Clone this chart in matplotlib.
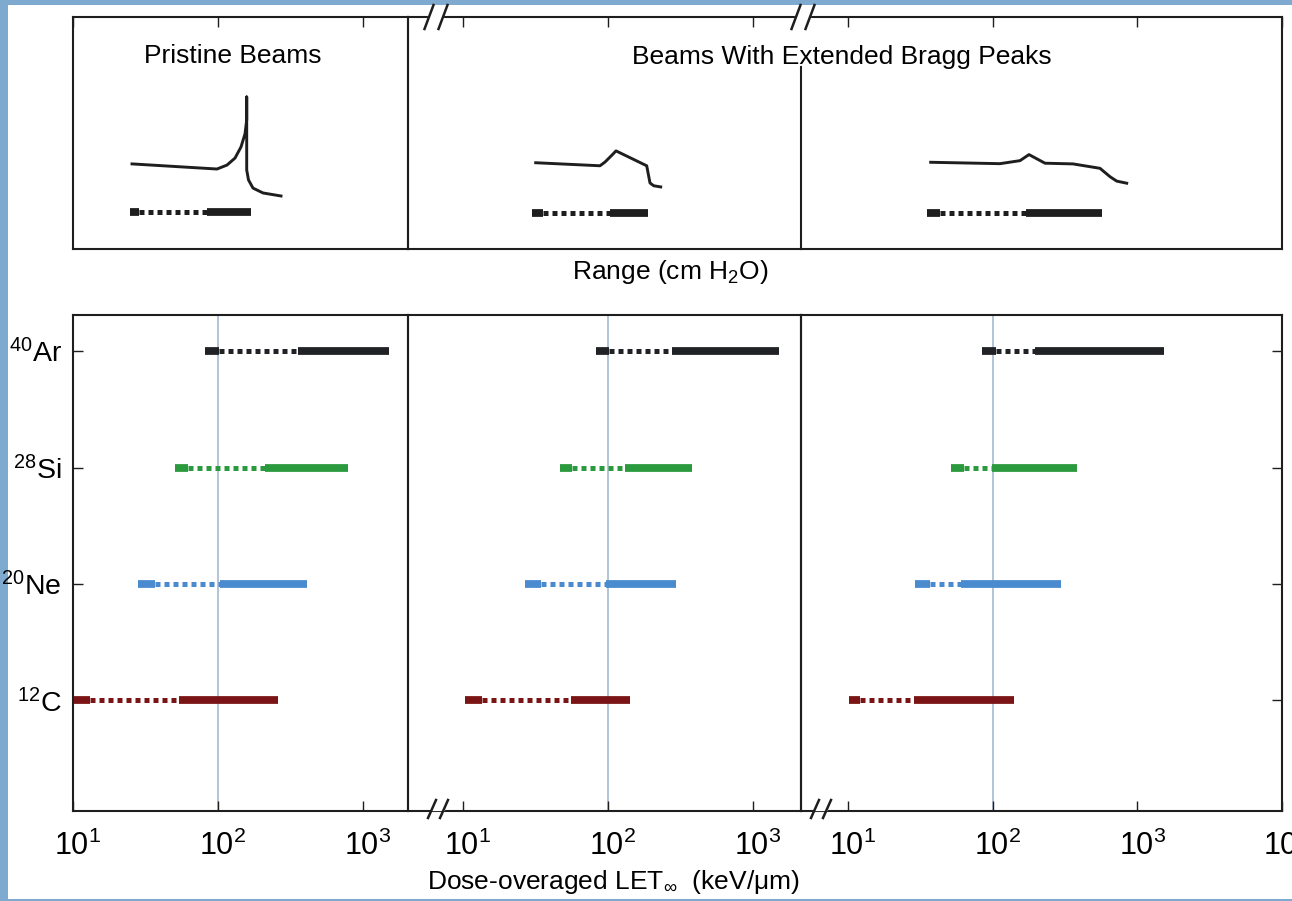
import matplotlib
matplotlib.use('Agg')
import matplotlib.pyplot as plt
from matplotlib.lines import Line2D
from matplotlib.patches import Rectangle
from matplotlib.ticker import NullLocator, FixedLocator
from matplotlib.transforms import ScaledTranslation

plt.rcParams['font.family'] = ['Liberation Sans', 'DejaVu Sans']
plt.rcParams['mathtext.fontset'] = 'custom'
plt.rcParams['mathtext.rm'] = 'Liberation Sans'
plt.rcParams['mathtext.it'] = 'Liberation Sans:italic'
plt.rcParams['mathtext.bf'] = 'Liberation Sans:bold'

W, H = 1292, 901

# ---------------- data ----------------
ion_labels = [r'$^{12}$C', r'$^{20}$Ne', r'$^{28}$Si', r'$^{40}$Ar']
ion_colors = ['#7b1414', '#4a8bd0', '#2b9a3f', '#202226']
ion_rows = [1, 2, 3, 4]

# LET (keV/um): entrance start, entrance end, peak start, peak end  (rows: C, Ne, Si, Ar)
let_pristine = [[10.2, 13.2, 53.5, 262], [27.9, 36.9, 103.8, 415],
                [50.2, 62.6, 212, 795], [81.6, 101, 358, 1517]]
let_sobp_narrow = [[10.4, 13.5, 55.4, 143.6], [26.9, 34.4, 96.6, 297],
                   [46.6, 56.9, 130.6, 383], [82.4, 102, 278, 1517]]
let_sobp_wide = [[10.1, 12.2, 28.7, 141], [29.0, 36.8, 60.4, 296],
                 [51.2, 63.7, 99.5, 385], [84.9, 105, 196, 1531]]
let_panels = [let_pristine, let_sobp_narrow, let_sobp_wide]

# schematic depth-dose curves (depth in cm H2O, relative dose)
depth_pristine = [5.9, 14.4, 15.4, 16.2, 16.8, 17.2, 17.37, 17.37, 17.37, 17.55, 18.0, 19.0, 20.8]
dose_pristine = [3.66, 3.44, 3.61, 3.91, 4.39, 4.95, 5.55, 6.54, 3.40, 2.97, 2.62, 2.41, 2.28]
depth_sobp_narrow = [12.8, 19.23, 19.73, 20.43, 20.83, 23.9, 24.23, 24.6, 25.3]
dose_sobp_narrow = [3.71, 3.58, 3.74, 4.04, 4.22, 3.58, 2.84, 2.72, 2.67]
depth_sobp_wide = [13.0, 19.93, 21.93, 22.83, 24.43, 27.23, 29.93, 30.93, 31.6, 32.6]
dose_sobp_wide = [3.73, 3.67, 3.80, 4.06, 3.69, 3.66, 3.47, 3.11, 2.92, 2.83]
depth_curves = [depth_pristine, depth_sobp_narrow, depth_sobp_wide]
dose_curves = [dose_pristine, dose_sobp_narrow, dose_sobp_wide]

# range bars (cm): entrance start, entrance end, peak start, peak end
range_bars = [[5.7, 6.6, 13.4, 17.8], [12.4, 13.53, 20.23, 24.03], [12.63, 13.93, 22.53, 30.13]]
range_bar_level = [1.59, 1.55, 1.55]

x_ticks = [10, 100, 1000, 10000]

# ---------------- layout ----------------
def fx(x):
    return x / W

def fy(y):
    return 1 - y / H

col_edges = [73, 407.7, 800.7, 1282]
let_limits = [(10, 2043), (4.175, 2143), (4.707, 10046)]
depth_limits = [33.47, 39.3, 48.13]

fig = plt.figure(figsize=(W / 100, H / 100), dpi=100, facecolor='#7eaacf')
fig.patches.append(Rectangle((fx(7.5), fy(899)), 1 - fx(7.5), (899 - 4.7) / H,
                             transform=fig.transFigure, facecolor='white',
                             edgecolor='none', zorder=-10))

spine_c = '#1e1e1e'
thick_lw = 5.6
dot_lw = 3.6

def bar(ax, vals, y, color):
    a, b, c, d = vals
    ax.plot([a, b], [y, y], color=color, lw=thick_lw, solid_capstyle='butt', zorder=3)
    ax.plot([b, c], [y, y], color=color, lw=dot_lw, linestyle=(0, (1, 0.8)),
            dash_capstyle='butt', zorder=3)
    ax.plot([c, d], [y, y], color=color, lw=thick_lw, solid_capstyle='butt', zorder=3)

shift = ScaledTranslation(5 / 100, 0, fig.dpi_scale_trans)

for i in range(3):
    l, r = col_edges[i], col_edges[i + 1]
    # ---- bottom (LET) axes ----
    ax = fig.add_axes([fx(l), fy(811), fx(r) - fx(l), (811 - 315) / H])
    ax.set_facecolor('none')
    ax.set_xscale('log')
    ax.set_xlim(*let_limits[i])
    ax.set_ylim(0.05, 4.31)
    ax.xaxis.set_major_locator(FixedLocator(x_ticks))
    ax.xaxis.set_minor_locator(NullLocator())
    ax.tick_params(axis='x', direction='in', length=7, width=1, labelsize=22,
                   pad=14, color=spine_c)
    for lab in ax.get_xticklabels():
        lab.set_transform(lab.get_transform() + shift)
    ax.axvline(100, color='#aebfd4', lw=1.3, zorder=1)
    for k in range(4):
        bar(ax, let_panels[i][k], ion_rows[k], ion_colors[k])
    if i == 0:
        ax.set_yticks(ion_rows)
        ax.set_yticklabels(ion_labels)
        ax.tick_params(axis='y', direction='in', length=7, width=1, labelsize=20.5,
                       pad=8, color=spine_c)
    elif i == 2:
        ax.yaxis.tick_right()
        ax.set_yticks(ion_rows)
        ax.tick_params(axis='y', direction='in', length=7, width=1,
                       labelright=False, color=spine_c)
    else:
        ax.set_yticks([])
    for s in ax.spines.values():
        s.set_color(spine_c)
        s.set_linewidth(1.5)

    # ---- top (range) axes ----
    axt = fig.add_axes([fx(l), fy(249), fx(r) - fx(l), (249 - 16.5) / H])
    axt.set_facecolor('none')
    axt.set_xscale('log')
    axt.set_xlim(*let_limits[i])
    axt.xaxis.set_major_locator(FixedLocator(x_ticks))
    axt.xaxis.set_minor_locator(NullLocator())
    axt.xaxis.set_ticks_position('top')
    axt.tick_params(axis='x', direction='in', length=7, width=1,
                    labeltop=False, labelbottom=False, color=spine_c)
    axt.set_yticks([])
    for s in axt.spines.values():
        s.set_color(spine_c)
        s.set_linewidth(1.5)
    if i == 1:
        axt.spines['right'].set_visible(False)
    if i == 2:
        axt.spines['left'].set_visible(False)
        axt.axvline(let_limits[i][0], ymin=0, ymax=(249 - 67) / (249 - 16.5),
                    color=spine_c, lw=1.5, clip_on=False)

    axc = fig.add_axes([fx(l), fy(249), fx(r) - fx(l), (249 - 16.5) / H])
    axc.set_axis_off()
    axc.set_xlim(0, depth_limits[i])
    axc.set_ylim(0, 10)
    axc.plot(depth_curves[i], dose_curves[i], color='#1e1e1e', lw=2.1,
             solid_joinstyle='round')
    bar(axc, range_bars[i], range_bar_level[i], '#1e1e1e')

# ---------------- break marks ----------------
def break_mark(xc, yc, h, dx, sep):
    fig.add_artist(Line2D([fx(xc - sep / 2 + 1), fx(xc + sep / 2 - 1)], [fy(yc), fy(yc)],
                          color='white', lw=3, transform=fig.transFigure, zorder=5))
    for xs in (xc - sep / 2, xc + sep / 2):
        fig.add_artist(Line2D([fx(xs - dx / 2), fx(xs + dx / 2)],
                              [fy(yc + h / 2), fy(yc - h / 2)],
                              color=spine_c, lw=1.8, transform=fig.transFigure, zorder=6))

break_mark(436, 17, 24, 9, 14)
break_mark(803, 17, 24, 9, 14)
break_mark(438, 809, 18, 8, 12)
break_mark(821, 809, 18, 8, 12)

# ---------------- texts ----------------
fig.text(fx(233), fy(56), 'Pristine Beams', fontsize=19, ha='center', va='center', zorder=7)
fig.text(fx(842), fy(57), 'Beams With Extended Bragg Peaks', fontsize=19,
         ha='center', va='center', zorder=7)
fig.text(fx(670), fy(272), r'Range (cm H$_2$O)', fontsize=19, ha='center', va='center')
fig.text(fx(613), fy(882), r'Dose-overaged LET$_{\infty}$  (keV/μm)', fontsize=19,
         ha='center', va='center')

fig.savefig('out.png', dpi=100, facecolor=fig.get_facecolor())
